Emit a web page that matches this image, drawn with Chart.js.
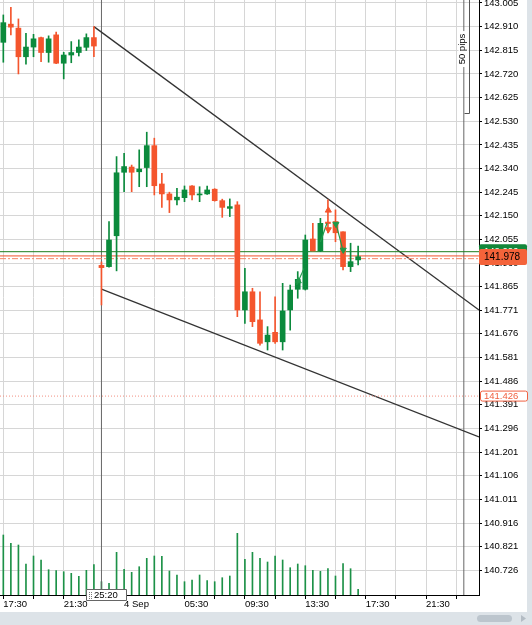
<!DOCTYPE html>
<html>
<head>
<meta charset="utf-8">
<script src="https://cdn.jsdelivr.net/npm/chart.js@4.4.1/dist/chart.umd.min.js"></script>
<style>
  html, body { margin: 0; padding: 0; background: #fff; }
  canvas { display: block; }
</style>
</head>
<body>
<canvas id="chart" width="532" height="625"></canvas>
<script>
// ── Data (30 min candles, index 0 = 17:30) ──────────────────────────────────
const opens  = [142.847, 142.920, 142.904, 142.789, 142.828, 142.866, 142.806, 142.877, 142.763, 142.796, 142.806, 142.827, 142.866,
                141.951, 141.946, 142.070, 142.325, 142.346, 142.327, 142.344, 142.432, 142.278, 142.238, 142.214, 142.223, 142.270,
                142.234, 142.238, 142.257, 142.211, 142.180, 142.194, 141.772, 141.845, 141.732, 141.644, 141.682, 141.644, 141.772,
                141.855, 141.855, 142.057, 142.009, 142.125, 142.127, 142.086, 141.946, 141.973];
const highs  = [142.957, 142.988, 142.941, 142.883, 142.879, 142.868, 142.873, 142.888, 142.807, 142.850, 142.857, 142.881, 142.910,
                141.965, 142.127, 142.388, 142.401, 142.354, 142.415, 142.486, 142.462, 142.321, 142.245, 142.261, 142.270, 142.272,
                142.267, 142.270, 142.259, 142.217, 142.218, 142.207, 141.939, 141.859, 141.845, 141.705, 141.825, 141.879, 141.872,
                141.926, 142.073, 142.120, 142.140, 142.214, 142.174, 142.086, 142.040, 142.029];
const lows   = [142.767, 142.877, 142.720, 142.759, 142.789, 142.769, 142.767, 142.761, 142.700, 142.765, 142.792, 142.814, 142.789,
                141.792, 141.944, 141.929, 142.247, 142.247, 142.267, 142.267, 142.234, 142.184, 142.163, 142.194, 142.207, 142.214,
                142.207, 142.236, 142.209, 142.144, 142.147, 141.745, 141.718, 141.705, 141.631, 141.611, 141.638, 141.611, 141.691,
                141.819, 141.852, 142.009, 142.006, 142.081, 142.046, 141.933, 141.926, 141.953];
const closes = [142.926, 142.908, 142.789, 142.828, 142.861, 142.806, 142.861, 142.763, 142.796, 142.806, 142.828, 142.866, 142.832,
                141.942, 142.053, 142.323, 142.348, 142.325, 142.338, 142.432, 142.271, 142.238, 142.214, 142.225, 142.254, 142.234,
                142.238, 142.254, 142.211, 142.184, 142.187, 141.772, 141.845, 141.725, 141.638, 141.671, 141.644, 141.768, 141.852,
                141.895, 142.053, 142.009, 142.120, 142.119, 142.082, 141.946, 141.966, 141.986];
const volumes = [600, 517, 500, 310, 390, 350, 253, 243, 233, 217, 187, 247, 303, 133, 117, 427, 257, 227, 283, 367, 390, 387,
                 240, 200, 133, 150, 200, 143, 133, 173, 190, 617, 357, 427, 367, 330, 390, 350, 273, 310, 293, 247, 237, 263,
                 190, 313, 263, 57];

const priceTicks = [143.005, 142.910, 142.815, 142.720, 142.625, 142.530, 142.435, 142.340, 142.245, 142.150, 142.055, 141.960,
                    141.865, 141.771, 141.676, 141.581, 141.486, 141.391, 141.296, 141.201, 141.106, 141.011, 140.916, 140.821, 140.726];
const gridIdx      = [0, 4, 8, 12, 16, 20, 24, 28, 32, 36, 40, 44, 48, 52, 56, 60];
const timeTickIdx  = [0, 8, 16, 24, 32, 40, 48, 56];
const timeTickText = ['17:30', '21:30', '4 Sep', '05:30', '09:30', '13:30', '17:30', '21:30'];
const daySeparators = [13, 61];

// trend lines: [startIdx, startPrice, endIdx, endPrice]
const trendUpper = [12, 142.910, 63.01, 141.772];
const trendLower = [13, 141.856, 63.01, 141.262];

// horizontal price lines
const askPrice    = 142.006;
const bidPrice    = 141.989;
const bidDashed   = 141.978;
const alertPrice  = 141.426;

// trades
const tradeLines = [[38.86, 141.872, 39.83, 141.939], [42.0, 142.045, 42.87, 142.120], [44.06, 142.120, 45.03, 142.006]];
const buyArrowsUp   = [[39.07, 141.888]];
const buyArrowsDown = [[44.06, 142.117], [45.03, 142.013]];
const sellArrowsUp  = [[43.05, 142.172]];
const sellArrowsDn  = [[43.05, 142.095]];

// ruler
const rulerTop = 143.063, rulerBottom = 142.563, rulerIdx = 61.68, rulerText = '50 pips';
const timerText = '25:20';

// ── Scales ──────────────────────────────────────────────────────────────────
const X_MIN = -0.44, X_MAX = 63.01;
const Y_MIN = 140.627, Y_MAX = 143.017;

const GREEN = '#0b8a3c';
const RED   = '#f4552d';
const GRID  = '#d6d6d6';

Chart.defaults.font.family = "'Liberation Sans', Arial, sans-serif";
Chart.defaults.font.size = 9.5;
Chart.defaults.color = '#000';

const colors = closes.map((c, i) => c >= opens[i] ? GREEN : RED);
const idx = closes.map((_, i) => i);

function hline(p, color, dash) {
  return {
    type: 'line', data: [{ x: X_MIN, y: p }, { x: X_MAX, y: p }],
    borderColor: color, borderWidth: 1, borderDash: dash || [], pointRadius: 0, order: 4
  };
}
function seg(s, color, width, order) {
  return {
    type: 'line', data: [{ x: s[0], y: s[1] }, { x: s[2], y: s[3] }],
    borderColor: color, borderWidth: width, pointRadius: 0, order: order
  };
}
function markers(list, color, rot) {
  return {
    type: 'line', showLine: false, data: list.map(m => ({ x: m[0], y: m[1] })),
    pointStyle: 'triangle', pointRotation: rot, pointRadius: 3.5,
    pointBackgroundColor: color, pointBorderColor: color, order: 0
  };
}

const datasets = [
  // volumes
  { type: 'bar', yAxisID: 'yv', data: idx.map(i => ({ x: i, y: volumes[i] })),
    backgroundColor: '#1c9147', barThickness: 1, grouped: false, order: 10 },
  // day separators
  ...daySeparators.map(d => seg([d, Y_MIN, d, Y_MAX], '#666', 1, 9)),
  // price lines
  hline(askPrice, '#1d7d1d'),
  hline(bidPrice, '#f0522c'),
  hline(bidDashed, '#f58566', [6, 2, 2, 2]),
  hline(alertPrice, '#f29080', [1, 2]),
  // trend lines
  seg(trendUpper, '#333', 1.3, 5),
  seg(trendLower, '#333', 1.3, 5),
  // wicks and bodies
  { type: 'bar', data: idx.map(i => ({ x: i, y: [lows[i], highs[i]] })),
    backgroundColor: colors, barThickness: 1, grouped: false, order: 3 },
  { type: 'bar', data: idx.map(i => ({ x: i, y: [opens[i], closes[i]] })),
    backgroundColor: colors, barThickness: 5, minBarLength: 1, grouped: false, order: 2 },
  // trades
  ...tradeLines.map(s => seg(s, '#1f9a4a', 1.2, 1)),
  markers(buyArrowsUp, '#1f9a4a', 0),
  markers(buyArrowsDown, '#1f9a4a', 180),
  markers(sellArrowsUp, RED, 0),
  markers(sellArrowsDn, RED, 180)
];

// ── Decorations: ruler, price tags, timer, scrollbars ──────────────────────
const decor = {
  id: 'decor',
  afterDraw(chart) {
    const { ctx, chartArea: a, scales: { x, y } } = chart;
    ctx.save();

    // 50 pips ruler
    const rx = Math.round(x.getPixelForValue(rulerIdx)) + 0.5;
    const lx = Math.round(x.getPixelForValue(daySeparators[1])) + 0.5;
    const by = Math.round(y.getPixelForValue(rulerBottom)) + 0.5;
    const ty = Math.max(a.top, y.getPixelForValue(rulerTop));
    ctx.strokeStyle = '#555';
    ctx.lineWidth = 1;
    ctx.beginPath();
    ctx.moveTo(rx, ty); ctx.lineTo(rx, by); ctx.lineTo(lx, by);
    ctx.stroke();
    const tcy = y.getPixelForValue(142.82);
    ctx.fillStyle = '#fff';
    ctx.fillRect(lx - 6, tcy - 18, 10, 36);
    ctx.translate(lx - 2, tcy);
    ctx.rotate(-Math.PI / 2);
    ctx.fillStyle = '#000';
    ctx.font = "9.5px 'Liberation Sans', Arial, sans-serif";
    ctx.textAlign = 'center';
    ctx.textBaseline = 'middle';
    ctx.fillText(rulerText, 0, 0);
    ctx.setTransform(1, 0, 0, 1, 0, 0);

    // scrollbars
    ctx.fillStyle = '#dde3e8';
    ctx.fillRect(0, 612, 532, 13);
    ctx.fillRect(527, 0, 5, 612);
    ctx.fillStyle = '#bcc5cd';
    ctx.beginPath();
    ctx.roundRect(477, 615, 35, 7, 3.5);
    ctx.fill();
    ctx.fillStyle = '#b4bcc4';
    ctx.beginPath();
    ctx.moveTo(521, 615); ctx.lineTo(526, 618.5); ctx.lineTo(521, 622);
    ctx.fill();

    // price tags
    ctx.font = "9.5px 'Liberation Sans', Arial, sans-serif";
    ctx.textAlign = 'left';
    ctx.textBaseline = 'middle';
    const ay = y.getPixelForValue(askPrice);
    ctx.fillStyle = '#12873a';
    ctx.beginPath(); ctx.roundRect(a.right, ay - 7.5, 48, 15, 2); ctx.fill();
    ctx.fillStyle = '#fff';
    ctx.fillText(askPrice.toFixed(3), a.right + 5, ay);

    const bidY = y.getPixelForValue(bidPrice) + 1;
    ctx.fillStyle = '#f4633a';
    ctx.beginPath(); ctx.roundRect(a.right, bidY - 8, 48, 16, 2); ctx.fill();
    ctx.fillStyle = '#000';
    ctx.font = "10px 'Liberation Sans', Arial, sans-serif";
    ctx.fillText(bidDashed.toFixed(3), a.right + 5, bidY + 0.5);

    const alY = y.getPixelForValue(alertPrice);
    ctx.fillStyle = '#fff';
    ctx.strokeStyle = '#f06040';
    ctx.beginPath(); ctx.roundRect(a.right + 1.5, alY - 5, 47, 10, 2); ctx.fill(); ctx.stroke();
    ctx.fillStyle = '#f06040';
    ctx.font = "9.5px 'Liberation Sans', Arial, sans-serif";
    ctx.fillText(alertPrice.toFixed(3), a.right + 5, alY + 0.5);

    // countdown box on the day separator
    const sx = Math.round(x.getPixelForValue(daySeparators[0]));
    ctx.fillStyle = '#fff';
    ctx.strokeStyle = '#666';
    ctx.beginPath(); ctx.rect(sx - 14.5, a.bottom - 5.5, 40, 11); ctx.fill(); ctx.stroke();
    ctx.fillStyle = '#777';
    for (let r = 0; r < 4; r++) {
      ctx.fillRect(sx - 12, a.bottom - 3 + r * 2, 1, 1);
      ctx.fillRect(sx - 10, a.bottom - 3 + r * 2, 1, 1);
    }
    ctx.fillStyle = '#000';
    ctx.fillText(timerText, sx - 7, a.bottom + 0.5);

    ctx.restore();
  }
};

// ── Chart ───────────────────────────────────────────────────────────────────
new Chart(document.getElementById('chart'), {
  type: 'bar',
  data: { datasets },
  options: {
    responsive: false,
    animation: false,
    devicePixelRatio: 1,
    layout: { padding: 0, autoPadding: false },
    plugins: { legend: { display: false }, tooltip: { enabled: false } },
    scales: {
      x: {
        type: 'linear', min: X_MIN, max: X_MAX, offset: false,
        afterBuildTicks: s => { s.ticks = gridIdx.map(v => ({ value: v })); },
        afterFit: s => { s.height = 30; s.paddingLeft = 0; s.paddingRight = 0; },
        grid: { color: GRID, offset: false, tickLength: 4, tickColor: '#000' },
        border: { color: '#000' },
        ticks: {
          autoSkip: false, maxRotation: 0, align: 'start', padding: 0,
          callback: v => { const k = timeTickIdx.indexOf(v); return k >= 0 ? timeTickText[k] : ''; }
        }
      },
      y: {
        position: 'right', min: Y_MIN, max: Y_MAX,
        afterBuildTicks: s => { s.ticks = priceTicks.map(v => ({ value: v })); },
        afterFit: s => { s.width = 53; s.paddingTop = 0; s.paddingBottom = 0; },
        grid: { color: GRID, tickLength: 3, tickColor: '#000' },
        border: { color: '#000' },
        ticks: { padding: 2, callback: v => v.toFixed(3) }
      },
      yv: { display: false, min: 0, max: 5950 }
    }
  },
  plugins: [decor]
});
</script>
</body>
</html>
